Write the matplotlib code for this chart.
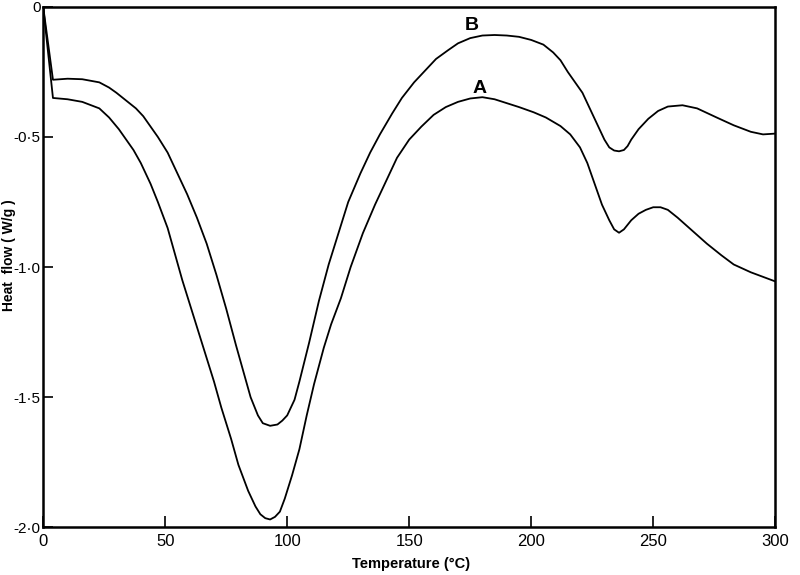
import matplotlib.pyplot as plt

# curve A (lower) and B (upper)
temp_a = [0, 4, 10, 16, 23, 27, 31, 34, 37, 40, 44, 47, 51, 54, 57, 61, 64, 67, 70,
          73, 77, 80, 84, 87, 89, 91, 93, 95, 97, 99, 102, 105, 108, 111, 115, 118,
          122, 126, 131, 136, 141, 145, 150, 155, 160, 165, 170, 175, 180, 185, 190,
          195, 201, 206, 212, 216, 220, 223, 226, 229, 232, 234, 236, 238, 241, 244,
          247, 250, 253, 256, 260, 266, 272, 278, 283, 290, 300]
flow_a = [0, -0.35, -0.355, -0.365, -0.39, -0.425, -0.47, -0.51, -0.55, -0.60, -0.68,
          -0.75, -0.85, -0.95, -1.05, -1.17, -1.26, -1.35, -1.44, -1.54, -1.66, -1.76,
          -1.86, -1.92, -1.95, -1.965, -1.97, -1.96, -1.94, -1.89, -1.80, -1.70, -1.57,
          -1.45, -1.31, -1.22, -1.12, -1.00, -0.87, -0.76, -0.66, -0.58, -0.51, -0.46,
          -0.415, -0.385, -0.365, -0.352, -0.347, -0.355, -0.37, -0.385, -0.405, -0.425,
          -0.458, -0.49, -0.54, -0.60, -0.68, -0.76, -0.82, -0.855, -0.868, -0.855,
          -0.82, -0.795, -0.78, -0.77, -0.77, -0.78, -0.81, -0.86, -0.91, -0.955,
          -0.99, -1.02, -1.055]

temp_b = [0, 4, 10, 16, 23, 27, 30, 34, 38, 41, 44, 47, 51, 55, 59, 63, 67, 71, 75,
          79, 82, 85, 88, 90, 93, 96, 98, 100, 103, 105, 109, 113, 117, 121, 125, 130,
          134, 138, 143, 147, 152, 157, 161, 166, 170, 175, 180, 185, 190, 195, 200,
          205, 209, 212, 215, 218, 221, 223, 225, 228, 230, 232, 234, 236, 238, 239.5,
          241, 244, 248, 252, 256, 262, 268, 276, 283, 290, 295, 300]
flow_b = [0, -0.28, -0.276, -0.278, -0.29, -0.31, -0.33, -0.36, -0.39, -0.42, -0.46,
          -0.50, -0.56, -0.64, -0.72, -0.81, -0.91, -1.03, -1.16, -1.30, -1.40, -1.50,
          -1.57, -1.60, -1.61, -1.605, -1.59, -1.57, -1.51, -1.44, -1.29, -1.13, -0.99,
          -0.87, -0.75, -0.64, -0.56, -0.49, -0.41, -0.35, -0.29, -0.24, -0.20, -0.166,
          -0.14, -0.12, -0.11, -0.108, -0.11, -0.115, -0.127, -0.145, -0.175, -0.205,
          -0.25, -0.29, -0.33, -0.37, -0.41, -0.47, -0.51, -0.54, -0.552, -0.555,
          -0.55, -0.535, -0.51, -0.47, -0.43, -0.40, -0.383, -0.378, -0.39, -0.425,
          -0.455, -0.48, -0.49, -0.487]

xticks = [0, 50, 100, 150, 200, 250, 300]
yticks = [0, -0.5, -1.0, -1.5, -2.0]
ylabels = ['0', '-0·5', '-1·0', '-1·5', '-2·0']

plt.rcParams['font.family'] = ['Liberation Sans', 'DejaVu Sans']

fig = plt.figure(figsize=(8, 5.75), dpi=100)
ax = fig.add_axes([0.054, 0.083, 0.915, 0.905])

ax.plot(temp_a, flow_a, color='black', lw=1.3)
ax.plot(temp_b, flow_b, color='black', lw=1.3)

ax.text(179, -0.313, 'A', fontsize=14, fontweight='bold', ha='center', va='center')
ax.text(175.8, -0.073, 'B', fontsize=14, fontweight='bold', ha='center', va='center')

ax.set_xlim(0, 300)
ax.set_ylim(-2.0, 0.0)
ax.set_xticks(xticks)
ax.set_yticks(yticks)
ax.set_yticklabels(ylabels)
ax.tick_params(axis='x', direction='in', length=8, width=1.2, labelsize=12, pad=5)
ax.tick_params(axis='y', direction='in', length=7, width=1.2, labelsize=11, pad=2)
for s in ax.spines.values():
    s.set_linewidth(1.8)

ax.set_xlabel('Temperature (°C)', fontsize=10.5, fontweight='bold')
ax.xaxis.set_label_coords(0.503, -0.058)
fig.text(0.011, 0.556, 'Heat  flow ( W/g )', fontsize=10, fontweight='bold',
         rotation=90, ha='center', va='center')

fig.savefig('out.png', dpi=100)
